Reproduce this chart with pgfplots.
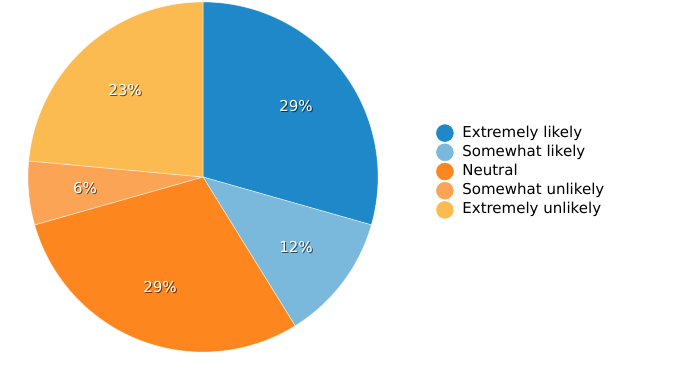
\documentclass[border=0pt]{standalone}
\usepackage{pgfplots}
\pgfplotsset{compat=1.18}
\usepackage{pgfplotstable}
\usepackage{fontspec}
\setmainfont{DejaVu Sans}
\definecolor{c1}{RGB}{31,136,200}
\definecolor{c2}{RGB}{122,185,219}
\definecolor{c3}{RGB}{253,134,31}
\definecolor{c4}{RGB}{252,164,86}
\definecolor{c5}{RGB}{252,187,80}
% label positions (pixel coordinates, y up) and text
\pgfplotstableread{
x y lab
296 264 29\%
296 123 12\%
160 83 29\%
85 182 6\%
125 280 23\%
}\labels
\newcommand{\slice}[3]{%
\addplot[fill=#1, draw=white, draw opacity=0.55, line width=0.7bp, domain=#2:#3, samples=90, variable=\t, forget plot]
 ({203+175*sin(\t)},{193+175*cos(\t)}) -- (axis cs:203,193) -- cycle;}
\begin{document}
\begin{tikzpicture}
\begin{axis}[
  scale only axis, width=675bp, height=370bp,
  xmin=0, xmax=675, ymin=0, ymax=370,
  hide axis, clip=false,
  legend style={at={(axis cs:436,198.5)}, anchor=west, draw=none, fill=none,
    font=\fontsize{15bp}{17bp}\selectfont, row sep=1.8bp,
    nodes={inner sep=0pt, text height=11bp, text depth=3bp},
    cells={anchor=west}, inner sep=0pt},
  legend image code/.code={\fill[#1] (0bp,0bp) circle (8.5bp); \path[draw=none,fill=none] (-8.5bp,0bp) -- (17.5bp,0bp);},
  legend cell align=left,
]
% slices: cumulative angles (deg, clockwise from top) from shares 29.41, 11.76, 29.41, 5.88, 23.53 %
\slice{c1}{0}{105.88}
\slice{c2}{105.88}{148.24}
\slice{c3}{148.24}{254.12}
\slice{c4}{254.12}{275.29}
\slice{c5}{275.29}{360}
% label shadows
\addplot[only marks, mark=none, forget plot, nodes near coords, point meta=explicit symbolic,
  nodes near coords style={anchor=center, font=\fontsize{15bp}{17bp}\selectfont, text=black, text opacity=0.6, xshift=1.1bp, yshift=-1.3bp}]
  table[meta=lab] {\labels};
\addplot[only marks, mark=none, forget plot, nodes near coords, point meta=explicit symbolic,
  nodes near coords style={anchor=center, font=\fontsize{15bp}{17bp}\selectfont, text=white}]
  table[meta=lab] {\labels};
\addlegendimage{c1}\addlegendentry{Extremely likely}
\addlegendimage{c2}\addlegendentry{Somewhat likely}
\addlegendimage{c3}\addlegendentry{Neutral}
\addlegendimage{c4}\addlegendentry{Somewhat unlikely}
\addlegendimage{c5}\addlegendentry{Extremely unlikely}
\end{axis}
\pgfresetboundingbox
\path (0,0) rectangle (675bp,370bp);
\end{tikzpicture}
\end{document}
